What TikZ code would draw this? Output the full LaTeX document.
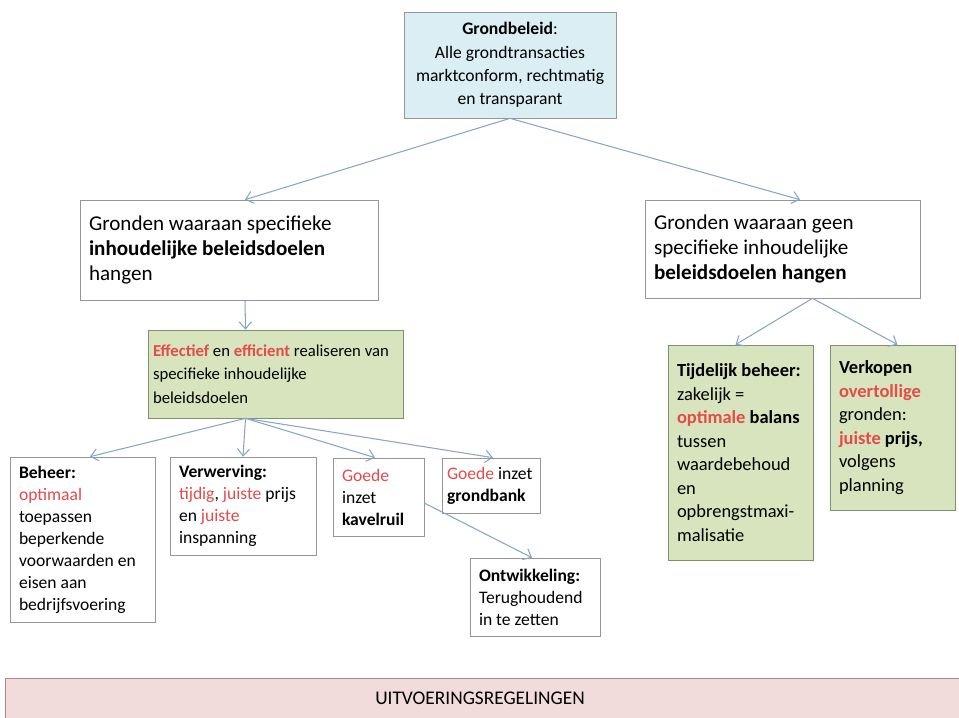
\documentclass[tikz,border=0pt]{standalone}
\usepackage{fontspec}
\setmainfont{Carlito}
\usepackage{tikz}
\usetikzlibrary{arrows.meta}
\definecolor{skyfill}{RGB}{218, 238, 243}
\definecolor{leaffill}{RGB}{215, 228, 189}
\definecolor{leafline}{RGB}{128, 146, 108}
\definecolor{rosefill}{RGB}{242, 220, 219}
\definecolor{roseline}{RGB}{185, 135, 135}
\definecolor{boxline}{RGB}{150, 150, 150}
\definecolor{arrowblue}{RGB}{135, 165, 200}
\definecolor{accentred}{RGB}{228, 75, 75}
\newcommand{\redword}[1]{\textcolor{accentred}{\textbf{#1}}}

\begin{document}
\begin{tikzpicture}[x=0.02cm, y=-0.02cm,
    plainbox/.style={draw=boxline, fill=white, align=flush left, inner xsep=0.18cm, inner ysep=0.12cm,
                     font=\fontsize{10}{12.5}\selectfont},
    leafbox/.style={plainbox, draw=leafline, fill=leaffill, font=\fontsize{10.5}{13.4}\selectfont},
    link/.style={draw=arrowblue, semithick, -{Straight Barb[length=4pt,width=7pt]}}]
            % Frame
            \useasboundingbox (0,0) rectangle (959,717);
            % Top
            \node[plainbox, fill=skyfill, align=flush center, text width=3.88cm, minimum height=2.12cm,
                  font=\fontsize{10}{13.3}\selectfont] (top) at (510,65)
                 {\textbf{Grondbeleid}:\\Alle grondtransacties\\marktconform, rechtmatig\\en transparant};
            % Second row
            \node[plainbox, text width=5.6cm, minimum height=2cm, font=\fontsize{12}{14.3}\selectfont] (lmid) at (229,250)
                 {Gronden waaraan specifieke\\\textbf{inhoudelijke beleidsdoelen}\\hangen};
            \node[plainbox, text width=5.14cm, minimum height=1.96cm, font=\fontsize{12}{14.3}\selectfont] (rmid) at (782.5,249)
                 {Gronden waaraan geen\\specifieke inhoudelijke\\\textbf{beleidsdoelen hangen}};
            \node[leafbox, inner xsep=0.1cm, text width=4.9cm, minimum height=1.76cm,
                  font=\fontsize{9.5}{13.5}\selectfont] (green) at (275.5,374)
                 {\redword{Effectief} en \redword{efficient} realiseren van\\specifieke inhoudelijke\\beleidsdoelen};
            % Left branch
            \node[plainbox, text width=2.54cm, minimum height=3.3cm] (beheer) at (82.5,539.5)
                 {\textbf{Beheer:}\\\textcolor{accentred}{optimaal}\\toepassen\\beperkende\\voorwaarden en\\eisen aan\\bedrijfsvoering};
            \node[plainbox, text width=2.56cm, minimum height=1.96cm] (verw) at (243,506)
                 {\textbf{Verwerving:}\\\textcolor{accentred}{tijdig}, \textcolor{accentred}{juiste} prijs\\en \textcolor{accentred}{juiste}\\inspanning};
            \node[plainbox, text width=1.46cm, minimum height=1.56cm] (kavel) at (378.5,497)
                 {\textcolor{accentred}{Goede}\\inzet\\\textbf{kavelruil}};
            \node[plainbox, inner xsep=0.1cm, text width=1.76cm, minimum height=1.1cm] (bank) at (491,485.5)
                 {\textcolor{accentred}{Goede} inzet\\\textbf{grondbank}};
            \node[plainbox, text width=2.24cm, minimum height=1.56cm] (ontw) at (535,597)
                 {\textbf{Ontwikkeling:}\\Terughoudend\\in te zetten};
            % Right branch
            \node[leafbox, text width=2.54cm, minimum height=4.3cm] (tijd) at (740.5,452.5)
                 {\textbf{Tijdelijk beheer:}\\zakelijk =\\\redword{optimale} \textbf{balans}\\tussen\\waardebehoud\\en\\opbrengstmaxi-\\malisatie};
            \node[leafbox, text width=2.14cm, minimum height=3.3cm] (verk) at (892.5,427.5)
                 {\textbf{Verkopen}\\\redword{overtollige}\\gronden:\\\redword{juiste} \textbf{prijs,}\\volgens\\planning};
            % Bottom bar
            \node[draw=roseline, fill=rosefill, thick, anchor=north west, minimum width=19.3cm, minimum height=0.86cm,
                  font=\fontsize{11}{13}\selectfont] (uitv) at (5,678) {};
            \node[font=\fontsize{11}{13}\selectfont] (uitvtext) at (480,698) {UITVOERINGSREGELINGEN};
            % Arrows
            \draw[link] (top.south) -- ([xshift=0.32cm]lmid.north);
            \draw[link] (top.south) -- ([xshift=0.35cm]rmid.north);
            \draw[link] ([xshift=0.32cm]lmid.south) -- ([xshift=-0.6cm]green.north);
            \draw[link] ([xshift=0.6cm]rmid.south) -- ([xshift=-0.1cm]tijd.north);
            \draw[link] ([xshift=0.6cm]rmid.south) -- ([xshift=0.1cm]verk.north);
            \coordinate (fan) at ([xshift=-0.6cm]green.south);
            \foreach \t/\dx in {beheer/0.15, verw/0, kavel/-0.07, bank/0.04}
                \draw[link] (fan) -- ([xshift=\dx cm]\t.north);
            \draw[link] ([yshift=-0.12cm]kavel.east) -- ([xshift=-0.06cm]ontw.north);
\end{tikzpicture}
\end{document}
